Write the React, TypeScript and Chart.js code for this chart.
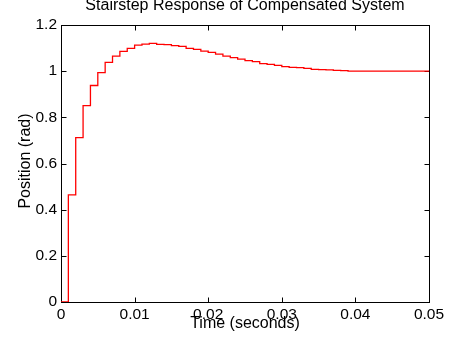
import React, { useEffect, useRef } from "react";
import { Chart, registerables } from "chart.js";

Chart.register(...registerables);

const TITLE = "Stairstep Response of Compensated System";
const X_LABEL = "Time (seconds)";
const Y_LABEL = "Position (rad)";

const TIME = [
  0, 0.001, 0.002, 0.003, 0.004, 0.005, 0.006, 0.007, 0.008, 0.009,
  0.01, 0.011, 0.012, 0.013, 0.014, 0.015, 0.016, 0.017, 0.018, 0.019,
  0.02, 0.021, 0.022, 0.023, 0.024, 0.025, 0.026, 0.027, 0.028, 0.029,
  0.03, 0.031, 0.032, 0.033, 0.034, 0.035, 0.036, 0.037, 0.038, 0.039,
  0.04, 0.041, 0.042, 0.043, 0.044, 0.045, 0.046, 0.047, 0.048, 0.049,
  0.05,
];

const POSITION = [
  0, 0.464, 0.712, 0.851, 0.938, 0.994, 1.038, 1.065, 1.086, 1.099,
  1.113, 1.117, 1.12, 1.116, 1.115, 1.111, 1.107, 1.099, 1.094, 1.087,
  1.081, 1.074, 1.065, 1.059, 1.052, 1.046, 1.041, 1.033, 1.029, 1.025,
  1.02, 1.016, 1.015, 1.012, 1.008, 1.007, 1.006, 1.003, 1.002, 1.0,
  1.0, 1.0, 1.0, 1.0, 1.0, 1.0, 1.0, 1.0, 1.0, 1.0,
  1.0,
];

const X_TICKS = [0, 0.01, 0.02, 0.03, 0.04, 0.05];
const Y_TICKS = [0, 0.2, 0.4, 0.6, 0.8, 1, 1.2];

const FONT = "'Liberation Sans', Arial, Helvetica, sans-serif";

const fmt = (v: number) => (v === 0 ? "0" : String(Number(v.toFixed(3))));

const framePlugin = {
  id: "matlabFrame",
  beforeDatasetsDraw(chart: any) {
    const { ctx, chartArea, scales } = chart;
    const { left, right, top, bottom } = chartArea;
    const xs = scales.x;
    const ys = scales.y;
    const tl = 5;
    ctx.save();
    ctx.strokeStyle = "#000";
    ctx.lineWidth = 1;
    ctx.strokeRect(left + 0.5, top + 0.5, right - left, bottom - top);
    ctx.beginPath();
    X_TICKS.forEach((v) => {
      const px = Math.round(xs.getPixelForValue(v)) + 0.5;
      ctx.moveTo(px, bottom + 0.5);
      ctx.lineTo(px, bottom + 0.5 - tl);
      ctx.moveTo(px, top + 0.5);
      ctx.lineTo(px, top + 0.5 + tl);
    });
    Y_TICKS.forEach((v) => {
      const py = Math.round(ys.getPixelForValue(v)) + 0.5;
      ctx.moveTo(left + 0.5, py);
      ctx.lineTo(left + 0.5 + tl, py);
      ctx.moveTo(right + 0.5, py);
      ctx.lineTo(right + 0.5 - tl, py);
    });
    ctx.stroke();
    ctx.restore();
  },
  afterDraw(chart: any) {
    const { ctx, chartArea } = chart;
    const cx = (chartArea.left + chartArea.right) / 2;
    ctx.save();
    ctx.fillStyle = "#000";
    ctx.font = `16px ${FONT}`;
    ctx.textAlign = "center";
    ctx.textBaseline = "alphabetic";
    ctx.fillText(TITLE, cx, 10);
    ctx.fillText(X_LABEL, cx, 328);
    ctx.translate(30, 161);
    ctx.rotate(-Math.PI / 2);
    ctx.fillText(Y_LABEL, 0, 0);
    ctx.restore();
  },
};

export default function App() {
  const ref = useRef<HTMLCanvasElement | null>(null);

  useEffect(() => {
    if (!ref.current) return;
    const chart = new Chart(ref.current, {
      type: "line",
      data: {
        datasets: [
          {
            data: TIME.map((t, i) => ({ x: t, y: POSITION[i] })),
            borderColor: "#ff0000",
            borderWidth: 1.3,
            pointRadius: 0,
            stepped: "before",
            fill: false,
          },
        ],
      },
      options: {
        responsive: false,
        animation: false,
        events: [],
        layout: { padding: { left: 0, right: 46, top: 25, bottom: 0 } },
        plugins: {
          legend: { display: false },
          tooltip: { enabled: false },
          title: { display: false },
        },
        scales: {
          x: {
            type: "linear",
            min: 0,
            max: 0.05,
            grid: { display: false, drawTicks: false },
            border: { display: false },
            afterBuildTicks: (s: any) => {
              s.ticks = X_TICKS.map((v) => ({ value: v }));
            },
            afterFit: (s: any) => {
              s.height = 38;
            },
            ticks: {
              autoSkip: false,
              maxRotation: 0,
              minRotation: 0,
              padding: 3,
              color: "#000",
              font: { family: FONT, size: 15.5 },
              callback: (v: any) => fmt(Number(v)),
            },
          },
          y: {
            type: "linear",
            min: 0,
            max: 1.2,
            grid: { display: false, drawTicks: false },
            border: { display: false },
            afterBuildTicks: (s: any) => {
              s.ticks = Y_TICKS.map((v) => ({ value: v }));
            },
            afterFit: (s: any) => {
              s.width = 61;
            },
            ticks: {
              autoSkip: false,
              padding: 4,
              color: "#000",
              font: { family: FONT, size: 15.5 },
              callback: (v: any) => fmt(Number(v)),
            },
          },
        },
      },
      plugins: [framePlugin],
    });
    return () => chart.destroy();
  }, []);

  return (
    <div
      style={{
        position: "absolute",
        left: 0,
        top: 0,
        width: 475,
        height: 340,
        background: "#fff",
      }}
    >
      <canvas ref={ref} width={475} height={340} style={{ display: "block" }} />
    </div>
  );
}
